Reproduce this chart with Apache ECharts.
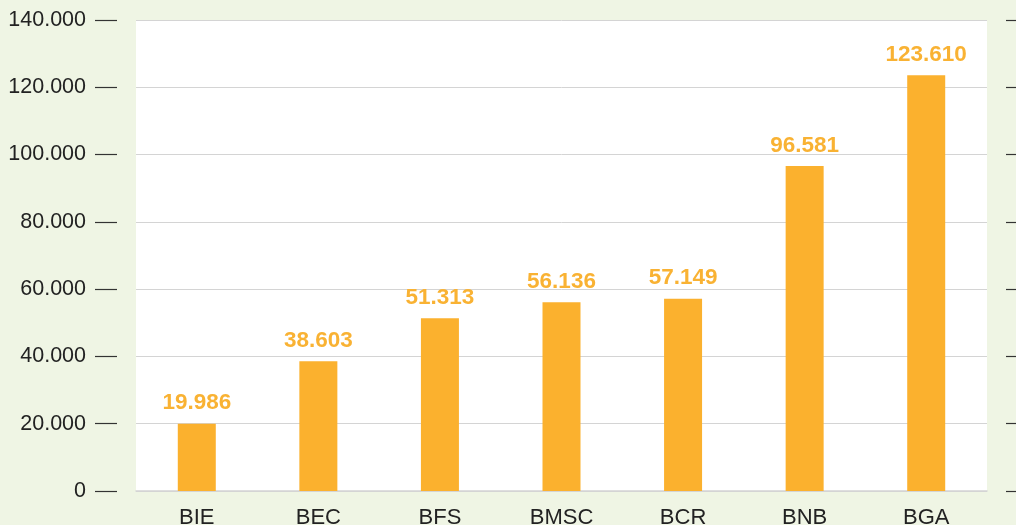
<!DOCTYPE html>
<html>
<head>
<meta charset="utf-8">
<style>
  html, body { margin: 0; padding: 0; background: #eff5e4; }
  #chart { width: 1016px; height: 525px; }
</style>
<script src="https://cdn.jsdelivr.net/npm/echarts@6/dist/echarts.min.js"></script>
</head>
<body>
<div id="chart"></div>
<script>
const banks = ["BIE", "BEC", "BFS", "BMSC", "BCR", "BNB", "BGA"];
const amounts = [19986, 38603, 51313, 56136, 57149, 96581, 123610];

// 140000 -> "140.000"
function formatThousands(value) {
  return String(Math.round(value)).replace(/\B(?=(\d{3})+(?!\d))/g, ".");
}

const chart = echarts.init(document.getElementById("chart"));

chart.setOption({
  animation: false,
  backgroundColor: "#eff5e4",
  grid: {
    left: 136,
    right: 29,
    top: 20,
    bottom: 34,
    outerBoundsMode: "none",
    containLabel: false,
    show: true,
    backgroundColor: "#ffffff",
    borderWidth: 0,
  },
  xAxis: {
    type: "category",
    data: banks,
    axisLine: { lineStyle: { color: "#d4d4d4", width: 1.5 } },
    axisTick: { show: false },
    axisLabel: {
      color: "#222222",
      fontFamily: "Liberation Sans, Arial",
      fontSize: 22,
      margin: 16,
    },
  },
  yAxis: [
    {
      type: "value",
      min: 0,
      max: 140000,
      interval: 20000,
      offset: 19,
      axisLine: { show: false },
      axisTick: { show: true, length: 22, lineStyle: { color: "#333333", width: 1.2 } },
      axisLabel: {
        color: "#222222",
        fontFamily: "Liberation Sans, Arial",
        fontSize: 21.5,
        margin: 31,
        formatter: formatThousands,
      },
      splitLine: { lineStyle: { color: "#d4d4d4", width: 1 } },
    },
    {
      type: "value",
      position: "right",
      min: 0,
      max: 140000,
      interval: 20000,
      offset: 19,
      axisLine: { show: false },
      axisTick: { show: true, length: 12, lineStyle: { color: "#333333", width: 1.2 } },
      axisLabel: { show: false },
      splitLine: { show: false },
    },
  ],
  series: [
    {
      type: "bar",
      data: amounts,
      barWidth: 38,
      itemStyle: { color: "#fbb12e" },
      label: {
        show: true,
        position: "top",
        distance: 9,
        color: "#f9b233",
        fontFamily: "Liberation Sans, Arial",
        fontWeight: "bold",
        fontSize: 22.5,
        formatter: function (p) { return formatThousands(p.value); },
      },
    },
  ],
});
</script>
</body>
</html>
